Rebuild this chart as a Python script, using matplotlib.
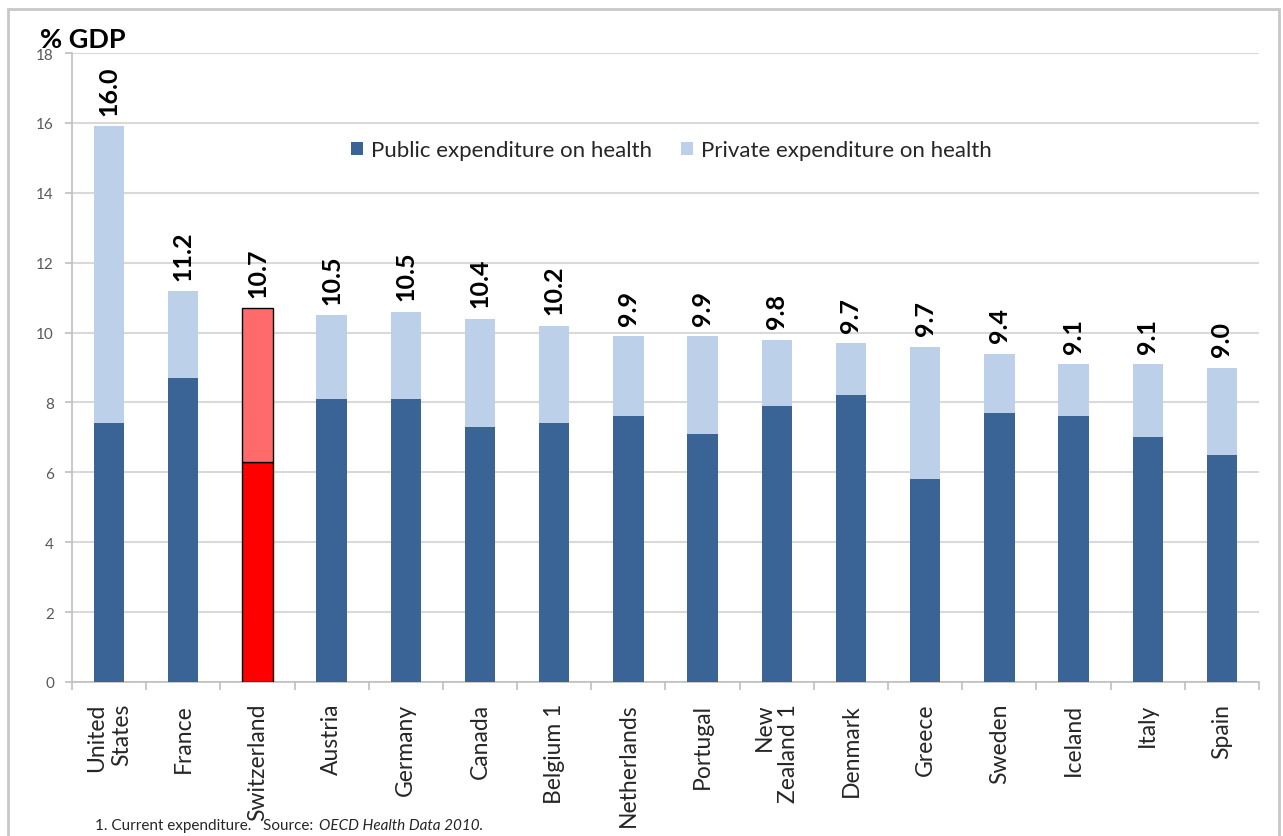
import matplotlib
matplotlib.use("Agg")
import matplotlib.pyplot as plt
from matplotlib.patches import Rectangle
import numpy as np

plt.rcParams['font.family'] = ['Lato', 'DejaVu Sans']

countries = ["United\nStates", "France", "Switzerland", "Austria", "Germany", "Canada",
             "Belgium 1", "Netherlands", "Portugal", "New\nZealand 1", "Denmark", "Greece",
             "Sweden", "Iceland", "Italy", "Spain"]
public = [7.4, 8.7, 6.3, 8.1, 8.1, 7.3, 7.4, 7.6, 7.1, 7.9, 8.2, 5.8, 7.7, 7.6, 7.0, 6.5]
total = [15.9, 11.2, 10.7, 10.5, 10.6, 10.4, 10.2, 9.9, 9.9, 9.8, 9.7, 9.6, 9.4, 9.1, 9.1, 9.0]
labels = ["16.0", "11.2", "10.7", "10.5", "10.5", "10.4", "10.2", "9.9", "9.9", "9.8",
          "9.7", "9.7", "9.4", "9.1", "9.1", "9.0"]
highlight = "Switzerland"

private = [t - p for t, p in zip(total, public)]

PUB = "#3B6496"
PRI = "#BCD0EA"

fig = plt.figure(figsize=(12.83, 8.37), dpi=100)
fig.patch.set_facecolor("white")
# outer frame
fig.add_artist(Rectangle((8/1283, -0.05), (1279-8)/1283, 1.05 - 10/837,
                         transform=fig.transFigure, fill=False,
                         edgecolor="#C8C8C8", linewidth=2.0))

ax = fig.add_axes([72/1283, 1 - 683/837, (1259-72)/1283, (683-54)/837])
x = np.arange(len(countries))
w = 0.41
pub_colors = ["#FF0000" if c == highlight else PUB for c in countries]
pri_colors = ["#FF6B6B" if c == highlight else PRI for c in countries]
edge = ["black" if c == highlight else "none" for c in countries]

ax.bar(x, public, w, color=pub_colors, edgecolor=edge, linewidth=1.0, zorder=3,
       label="Public expenditure on health")
ax.bar(x, private, w, bottom=public, color=pri_colors, edgecolor=edge, linewidth=1.0,
       zorder=3, label="Private expenditure on health")

for xi, t, lab in zip(x, total, labels):
    ax.annotate(lab, (xi, t), xytext=(0, 8), textcoords="offset points",
                rotation=90, ha="center", va="bottom", fontsize=18,
                fontweight="bold", color="black")

ax.set_xlim(-0.5, len(countries) - 0.5)
ax.set_ylim(0, 18)
ax.set_yticks(range(0, 19, 2))
ax.yaxis.grid(True, color="#D9D9D9", linewidth=1.5, zorder=0)
ax.set_axisbelow(True)
for s in ["top", "right"]:
    ax.spines[s].set_visible(False)
for s in ["left", "bottom"]:
    ax.spines[s].set_color("#BFBFBF")
    ax.spines[s].set_linewidth(1.2)

ax.set_xticks(x)
ax.set_xticklabels(countries, rotation=90, fontsize=16.5, color="#262626",
                   multialignment="right", linespacing=1.2)
ax.tick_params(axis="x", which="major", length=0, pad=15)
ax.set_xticks(np.arange(-0.5, len(countries), 1), minor=True)
ax.tick_params(axis="x", which="minor", length=6, color="#BFBFBF", width=1.2)
ax.tick_params(axis="y", length=5, color="#BFBFBF", width=1.2, labelsize=11,
               labelcolor="#595959", pad=8)

fig.text(40/1283, 1 - 40/837, "% GDP", fontsize=19.5, fontweight="bold",
         ha="left", va="center", color="black")

leg = ax.legend(loc="upper center", bbox_to_anchor=(0.505, 0.893), ncol=2, frameon=False,
                fontsize=16, handlelength=0.55, handleheight=0.55, handletextpad=0.35,
                columnspacing=1.3, labelcolor="#262626")

t1 = fig.text(95/1283, 1 - 826/837, "1. Current expenditure.   Source: ", fontsize=11,
              ha="left", va="center", color="#262626")
fig.canvas.draw()
bb = t1.get_window_extent()
fig.text(bb.x1 / 1283 + 2/1283, 1 - 826/837, "OECD Health Data 2010.", fontsize=11,
         style="italic", ha="left", va="center", color="#262626")

fig.savefig("out.png", dpi=100)
